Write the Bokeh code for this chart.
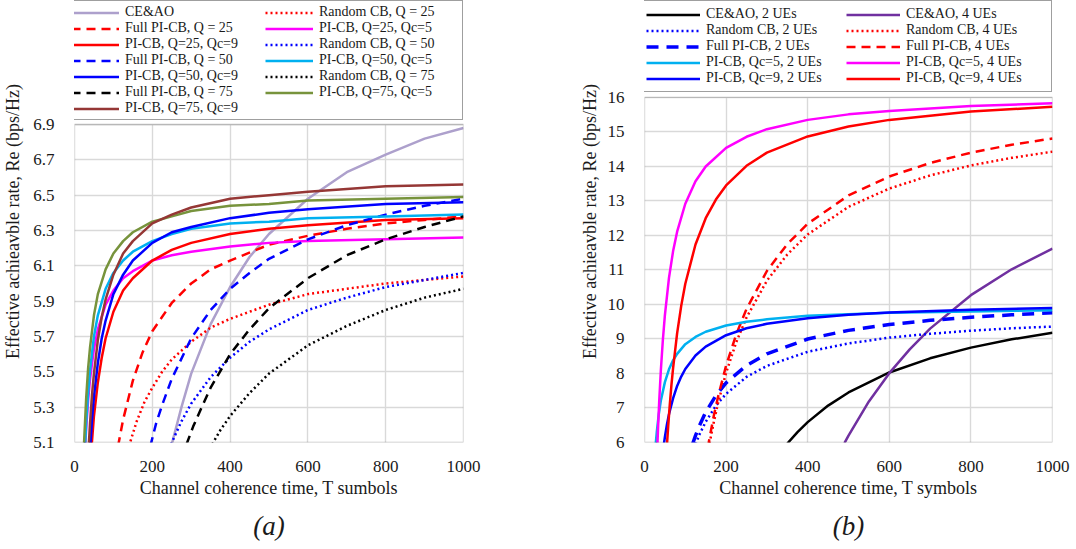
from bokeh.plotting import figure
from bokeh.layouts import row
from bokeh.models import (Range1d, FixedTicker, NumeralTickFormatter, Legend,
                          LegendItem, BoxAnnotation, Title)
from bokeh.embed import file_html
from bokeh.resources import INLINE

SERIF = "Liberation Serif"
TXT = "#1A1A1A"

# ---------------- (a) data ----------------
a_xticks = [0, 200, 400, 600, 800, 1000]
a_yticks = [5.1, 5.3, 5.5, 5.7, 5.9, 6.1, 6.3, 6.5, 6.7, 6.9]

a_ceao_T = [250, 275, 300, 350, 400, 450, 500, 600, 700, 800, 900, 1000]
a_ceao_R = [5.09, 5.30, 5.49, 5.77, 5.98, 6.15, 6.28, 6.48, 6.63, 6.73, 6.82, 6.88]

a_rnd25_T = [140, 150, 160, 180, 200, 225, 250, 300, 350, 400, 500, 600, 700, 800, 900, 1000]
a_rnd25_R = [5.08, 5.15, 5.22, 5.33, 5.41, 5.50, 5.57, 5.67, 5.75, 5.80, 5.88, 5.94, 5.97, 6.00, 6.02, 6.04]

a_full25_T = [112, 125, 150, 175, 200, 250, 300, 350, 400, 500, 600, 700, 800, 900, 1000]
a_full25_R = [5.08, 5.23, 5.45, 5.61, 5.73, 5.89, 6.00, 6.08, 6.13, 6.22, 6.27, 6.31, 6.34, 6.36, 6.38]

a_pi25c5_T = [27, 30, 35, 40, 50, 60, 80, 100, 125, 150, 200, 250, 300, 400, 500, 600, 800, 1000]
a_pi25c5_R = [5.06, 5.18, 5.34, 5.46, 5.63, 5.74, 5.88, 5.96, 6.03, 6.07, 6.13, 6.16, 6.18, 6.21, 6.23, 6.24, 6.25, 6.26]

a_pi25c9_T = [44, 50, 60, 70, 80, 100, 125, 150, 200, 250, 300, 400, 500, 600, 800, 1000]
a_pi25c9_R = [5.08, 5.25, 5.44, 5.58, 5.69, 5.84, 5.96, 6.03, 6.13, 6.19, 6.23, 6.28, 6.31, 6.33, 6.36, 6.37]

a_rnd50_T = [248, 275, 300, 350, 400, 450, 500, 600, 700, 800, 900, 1000]
a_rnd50_R = [5.09, 5.22, 5.32, 5.47, 5.58, 5.67, 5.74, 5.85, 5.92, 5.98, 6.02, 6.06]

a_full50_T = [195, 210, 225, 250, 300, 350, 400, 450, 500, 600, 700, 800, 900, 1000]
a_full50_R = [5.08, 5.21, 5.31, 5.46, 5.69, 5.85, 5.97, 6.06, 6.14, 6.25, 6.33, 6.39, 6.44, 6.48]

a_pi50c5_T = [27, 30, 35, 40, 50, 60, 80, 100, 125, 150, 200, 250, 300, 400, 500, 600, 800, 1000]
a_pi50c5_R = [5.07, 5.21, 5.38, 5.51, 5.70, 5.82, 5.97, 6.06, 6.13, 6.18, 6.24, 6.28, 6.31, 6.34, 6.35, 6.37, 6.38, 6.39]

a_pi50c9_T = [40, 45, 50, 60, 70, 80, 100, 125, 150, 200, 250, 300, 400, 500, 600, 800, 1000]
a_pi50c9_R = [5.06, 5.23, 5.36, 5.55, 5.69, 5.79, 5.94, 6.05, 6.13, 6.23, 6.29, 6.32, 6.37, 6.40, 6.42, 6.45, 6.46]

a_rnd75_T = [354, 375, 400, 450, 500, 600, 700, 800, 900, 1000]
a_rnd75_R = [5.09, 5.17, 5.25, 5.38, 5.49, 5.65, 5.76, 5.85, 5.92, 5.97]

a_full75_T = [288, 305, 325, 350, 400, 450, 500, 600, 700, 800, 900, 1000]
a_full75_R = [5.09, 5.19, 5.29, 5.41, 5.60, 5.74, 5.86, 6.03, 6.16, 6.25, 6.32, 6.38]

a_pi75c5_T = [24, 25, 30, 35, 40, 50, 60, 80, 100, 125, 150, 200, 250, 300, 400, 500, 600, 800, 1000]
a_pi75c5_R = [5.06, 5.12, 5.35, 5.52, 5.64, 5.82, 5.94, 6.08, 6.17, 6.24, 6.29, 6.35, 6.38, 6.41, 6.44, 6.45, 6.47, 6.48, 6.49]

a_pi75c9_T = [36, 40, 45, 50, 60, 70, 80, 100, 125, 150, 200, 250, 300, 400, 500, 600, 800, 1000]
a_pi75c9_R = [5.06, 5.21, 5.37, 5.49, 5.68, 5.81, 5.91, 6.05, 6.17, 6.24, 6.34, 6.39, 6.43, 6.48, 6.50, 6.52, 6.55, 6.56]

# ---------------- (b) data ----------------
b_xticks = [0, 200, 400, 600, 800, 1000]
b_yticks = [6, 7, 8, 9, 10, 11, 12, 13, 14, 15, 16]

b_ceao2_T = [350, 375, 400, 450, 500, 600, 700, 800, 900, 1000]
b_ceao2_R = [5.97, 6.30, 6.59, 7.07, 7.45, 8.03, 8.44, 8.75, 8.99, 9.18]

b_ceao4_T = [490, 500, 550, 600, 650, 700, 800, 900, 1000]
b_ceao4_R = [5.98, 6.20, 7.19, 8.01, 8.70, 9.30, 10.27, 11.02, 11.62]

b_rnd2_T = [125, 135, 150, 175, 200, 250, 300, 400, 500, 600, 700, 800, 900, 1000]
b_rnd2_R = [5.95, 6.24, 6.60, 7.07, 7.41, 7.90, 8.22, 8.63, 8.87, 9.04, 9.15, 9.24, 9.31, 9.36]

b_rnd4_T = [155, 160, 170, 180, 200, 225, 250, 300, 350, 400, 500, 600, 700, 800, 900, 1000]
b_rnd4_R = [5.69, 6.01, 6.60, 7.13, 8.02, 8.91, 9.62, 10.69, 11.45, 12.03, 12.83, 13.36, 13.74, 14.03, 14.25, 14.43]

b_full2_T = [118, 125, 135, 150, 175, 200, 250, 300, 400, 500, 600, 700, 800, 900, 1000]
b_full2_R = [5.96, 6.20, 6.50, 6.88, 7.36, 7.73, 8.23, 8.57, 9.00, 9.25, 9.42, 9.54, 9.63, 9.70, 9.76]

b_full4_T = [155, 160, 170, 180, 200, 225, 250, 300, 350, 400, 500, 600, 700, 800, 900, 1000]
b_full4_R = [5.84, 6.17, 6.78, 7.31, 8.23, 9.14, 9.87, 10.97, 11.75, 12.34, 13.16, 13.71, 14.10, 14.40, 14.63, 14.81]

b_pic5u2_T = [27, 30, 35, 40, 50, 60, 70, 80, 100, 125, 150, 200, 250, 300, 400, 500, 600, 800, 1000]
b_pic5u2_R = [5.89, 6.29, 6.82, 7.21, 7.75, 8.12, 8.38, 8.57, 8.85, 9.06, 9.21, 9.39, 9.50, 9.57, 9.67, 9.72, 9.76, 9.80, 9.83]

b_pic5u4_T = [31, 33, 36, 40, 45, 50, 60, 70, 80, 100, 125, 150, 200, 250, 300, 400, 500, 600, 800, 1000]
b_pic5u4_R = [5.73, 6.36, 7.18, 8.08, 8.97, 9.69, 10.77, 11.54, 12.11, 12.92, 13.57, 14.00, 14.54, 14.86, 15.08, 15.35, 15.51, 15.61, 15.75, 15.83]

b_pic9u2_T = [47, 50, 55, 60, 70, 80, 90, 100, 125, 150, 200, 250, 300, 400, 500, 600, 800, 1000]
b_pic9u2_R = [5.91, 6.16, 6.52, 6.82, 7.28, 7.64, 7.91, 8.13, 8.52, 8.78, 9.11, 9.31, 9.44, 9.60, 9.70, 9.77, 9.85, 9.90]

b_pic9u4_T = [55, 58, 62, 66, 70, 80, 90, 100, 125, 150, 175, 200, 250, 300, 400, 500, 600, 800, 1000]
b_pic9u4_R = [5.93, 6.46, 7.10, 7.66, 8.15, 9.17, 9.96, 10.60, 11.74, 12.50, 13.04, 13.45, 14.02, 14.40, 14.87, 15.16, 15.35, 15.59, 15.73]

# (label, T, R, color, dash, width) in drawing order
a_series = [
    ("CE&AO", a_ceao_T, a_ceao_R, "#ADA0CC", "solid", 2.5),
    ("Random CB, Q = 25", a_rnd25_T, a_rnd25_R, "#FF0000", "2 3", 2.5),
    ("Full PI-CB, Q = 25", a_full25_T, a_full25_R, "#FF0000", "9 6", 2.5),
    ("PI-CB, Q=25, Qc=5", a_pi25c5_T, a_pi25c5_R, "#FF00FF", "solid", 2.5),
    ("PI-CB, Q=25, Qc=9", a_pi25c9_T, a_pi25c9_R, "#FF0000", "solid", 2.5),
    ("Random CB, Q = 50", a_rnd50_T, a_rnd50_R, "#0000FF", "2 3", 2.5),
    ("Full PI-CB, Q = 50", a_full50_T, a_full50_R, "#0000FF", "9 6", 2.5),
    ("PI-CB, Q=50, Qc=5", a_pi50c5_T, a_pi50c5_R, "#00B0F0", "solid", 2.5),
    ("PI-CB, Q=50, Qc=9", a_pi50c9_T, a_pi50c9_R, "#0000FF", "solid", 2.5),
    ("Random CB, Q = 75", a_rnd75_T, a_rnd75_R, "#000000", "2 3", 2.5),
    ("Full PI-CB, Q = 75", a_full75_T, a_full75_R, "#000000", "9 6", 2.5),
    ("PI-CB, Q=75, Qc=5", a_pi75c5_T, a_pi75c5_R, "#77933C", "solid", 2.5),
    ("PI-CB, Q=75, Qc=9", a_pi75c9_T, a_pi75c9_R, "#953735", "solid", 2.5),
]
a_legend_order = [
    "CE&AO", "Full PI-CB, Q = 25", "PI-CB, Q=25, Qc=9", "Full PI-CB, Q = 50",
    "PI-CB, Q=50, Qc=9", "Full PI-CB, Q = 75", "PI-CB, Q=75, Qc=9",
    "Random CB, Q = 25", "PI-CB, Q=25, Qc=5", "Random CB, Q = 50",
    "PI-CB, Q=50, Qc=5", "Random CB, Q = 75", "PI-CB, Q=75, Qc=5",
]

b_series = [
    ("CE&AO, 2 UEs", b_ceao2_T, b_ceao2_R, "#000000", "solid", 2.5),
    ("CE&AO, 4 UEs", b_ceao4_T, b_ceao4_R, "#7030A0", "solid", 2.5),
    ("Random CB, 2 UEs", b_rnd2_T, b_rnd2_R, "#0000FF", "2 3", 2.5),
    ("Random CB, 4 UEs", b_rnd4_T, b_rnd4_R, "#FF0000", "2 3", 2.5),
    ("Full PI-CB, 2 UEs", b_full2_T, b_full2_R, "#0000FF", "12 8", 3.5),
    ("Full PI-CB, 4 UEs", b_full4_T, b_full4_R, "#FF0000", "9 6", 2.5),
    ("PI-CB, Qc=5, 2 UEs", b_pic5u2_T, b_pic5u2_R, "#00B0F0", "solid", 2.5),
    ("PI-CB, Qc=5, 4 UEs", b_pic5u4_T, b_pic5u4_R, "#FF00FF", "solid", 2.5),
    ("PI-CB, Qc=9, 2 UEs", b_pic9u2_T, b_pic9u2_R, "#0000FF", "solid", 2.5),
    ("PI-CB, Qc=9, 4 UEs", b_pic9u4_T, b_pic9u4_R, "#FF0000", "solid", 2.5),
]
b_legend_order = [
    "CE&AO, 2 UEs", "Random CB, 2 UEs", "Full PI-CB, 2 UEs", "PI-CB, Qc=5, 2 UEs",
    "PI-CB, Qc=9, 2 UEs", "CE&AO, 4 UEs", "Random CB, 4 UEs", "Full PI-CB, 4 UEs",
    "PI-CB, Qc=5, 4 UEs", "PI-CB, Qc=9, 4 UEs",
]


def make_panel(width, bl, br, y_lo, y_hi, y_frame_top, xticks, yticks, fmt, series,
               order, leg_pad, leg_glyph, leg_lw, xlabel, ylab_standoff, caption,
               cap_offset):
    # frame spans the full height above the x axis; the plot area is the box
    # [0,1000] x [y_lo, y_hi] drawn below, the extra space on top holds the legend
    p = figure(width=width, height=549, x_range=Range1d(0, 1000),
               y_range=Range1d(y_lo, y_frame_top),
               output_backend="svg", toolbar_location=None,
               min_border_left=bl, min_border_right=br, min_border_top=0,
               min_border_bottom=107)
    p.outline_line_color = None
    p.background_fill_color = "white"
    p.border_fill_color = "white"
    p.xaxis.ticker = FixedTicker(ticks=xticks)
    p.yaxis.ticker = FixedTicker(ticks=yticks)
    p.yaxis.formatter = NumeralTickFormatter(format=fmt)
    p.yaxis.bounds = (y_lo, y_hi)
    for ax in (p.xaxis, p.yaxis):
        ax.axis_line_color = None
        ax.major_tick_line_color = None
        ax.minor_tick_line_color = None
        ax.major_label_text_font = SERIF
        ax.major_label_text_font_size = "17px"
        ax.major_label_text_color = TXT
        ax.axis_label_text_font = SERIF
        ax.axis_label_text_font_size = "18px"
        ax.axis_label_text_font_style = "normal"
        ax.axis_label_text_color = TXT
    p.xaxis.major_label_standoff = 12
    p.yaxis.major_label_standoff = 14
    p.xaxis.axis_label = xlabel
    p.xaxis.axis_label_standoff = 3
    p.yaxis.axis_label = "Effective achieavble rate, Re (bps/Hz)"
    p.yaxis.axis_label_standoff = ylab_standoff
    for g in (p.xgrid, p.ygrid):
        g.grid_line_color = "#D9D9D9"
        g.grid_line_width = 1.4

    rends = {}
    for (lab, T, R, col, dash, lw) in series:
        rends[lab] = p.line(T, R, line_color=col, line_width=lw, line_dash=dash)

    # blank the grid above the plot area, then draw the plot-area border
    p.add_layout(BoxAnnotation(left=-500, right=1500, bottom=y_hi, top=y_frame_top + 10,
                               fill_color="white", fill_alpha=1.0, line_alpha=0))
    p.add_layout(BoxAnnotation(left=0, right=1000, bottom=y_lo, top=y_hi,
                               fill_alpha=0, line_color="#404040", line_width=1.3))

    items = [LegendItem(label=lab, renderers=[rends[lab]]) for lab in order]
    leg = Legend(items=items, location="top_right", ncols=2, orientation="vertical",
                 border_line_color="#404040", border_line_width=1.3,
                 background_fill_color="white", background_fill_alpha=1.0,
                 padding=leg_pad, spacing=0, margin=0, label_standoff=6,
                 glyph_width=leg_glyph, glyph_height=13, label_height=13,
                 label_width=leg_lw, label_text_font=SERIF, label_text_font_size="14px",
                 label_text_color=TXT)
    p.add_layout(leg)

    p.add_layout(Title(text=caption, align="center", text_font=SERIF,
                       text_font_style="italic", text_font_size="27px",
                       text_color=TXT, standoff=17, offset=cap_offset), "below")
    return p


# left plot area: y 5.1 at 442 px, 6.9 at 124 px -> frame top (0 px) at 7.602
# right plot area: y 6 at 442 px, 16 at 97 px   -> frame top (0 px) at 18.81
pa = make_panel(560, 72, 97, 5.1, 6.9, 7.602, a_xticks, a_yticks, "0.0", a_series,
                a_legend_order, 3, 48, 140, "Channel coherence time, T sumbols", 7,
                "(a)", 0)
pb = make_panel(516, 84, 24, 6, 16, 18.81, b_xticks, b_yticks, "0", b_series,
                b_legend_order, 5, 54, 140, "Channel coherence time, T symbols", 5,
                "(b)", -15)

open("out.html", "w").write(file_html(row(pa, pb), INLINE))
